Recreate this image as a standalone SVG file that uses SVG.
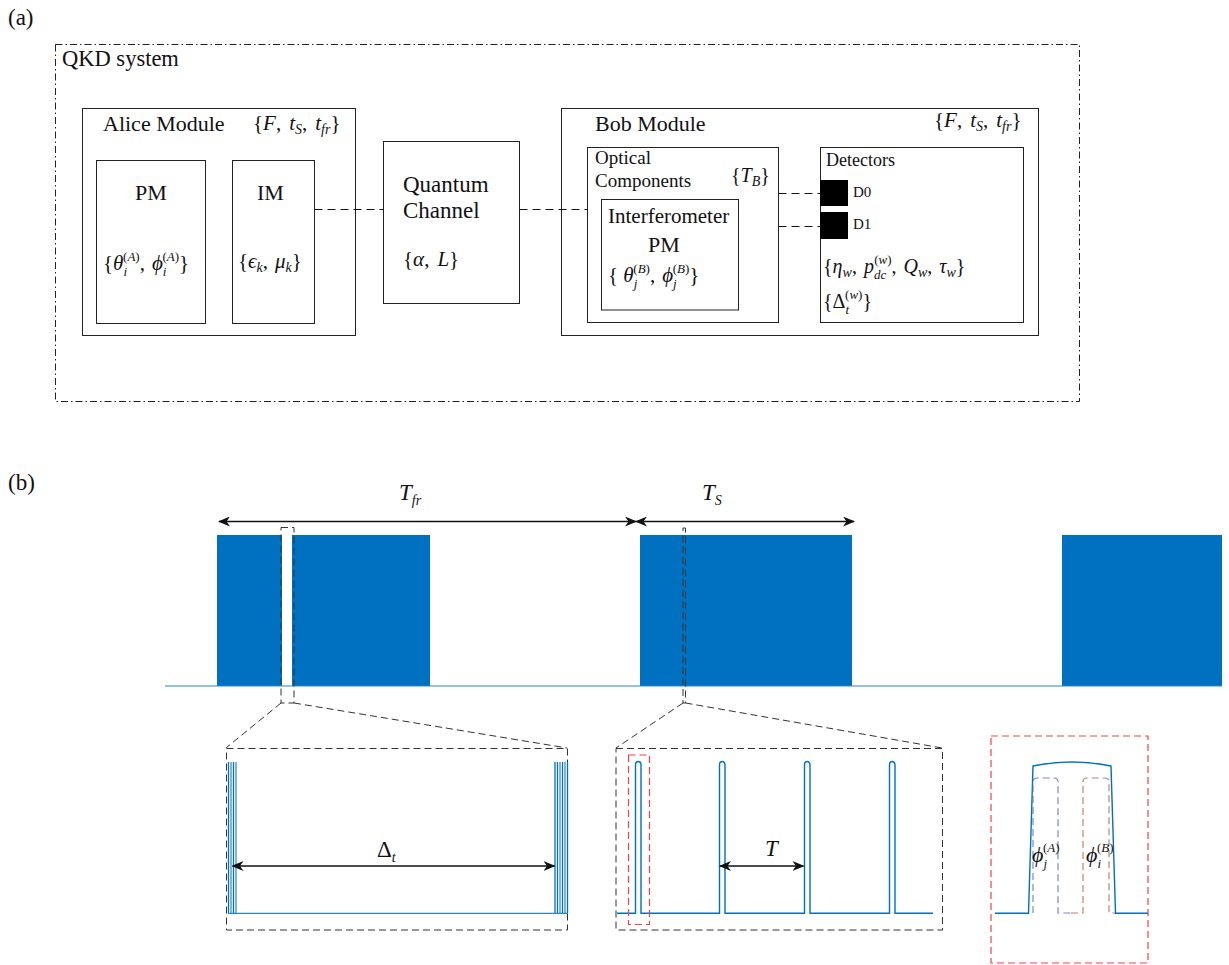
<svg xmlns="http://www.w3.org/2000/svg" width="1229" height="965" viewBox="0 0 1229 965" font-size="22">
<style>
text{font-family:'Liberation Serif','Times New Roman',serif;fill:#111}
.i{font-style:italic}
.s{font-size:14px}
.t{font-size:13px}
.box{fill:none;stroke:#222;stroke-width:1}
.dash{fill:none;stroke:#111;stroke-width:1;stroke-dasharray:8 5}
.zoom{fill:none;stroke:#333;stroke-width:1;stroke-dasharray:7 4}
.red{fill:none;stroke:#f04444;stroke-width:1.2;stroke-dasharray:7 4}
.arr{stroke:#111;stroke-width:1.3;marker-start:url(#ah);marker-end:url(#ah)}
.sig{fill:none;stroke:#0070C0;stroke-width:1.4}
</style>
<defs>
<marker id="ah" viewBox="0 0 12 10" refX="11" refY="5" markerWidth="12" markerHeight="10" markerUnits="userSpaceOnUse" orient="auto-start-reverse">
<path d="M0,0 L12,5 L0,10 L3.5,5 z" fill="#111"/>
</marker>
</defs>

<text x="8" y="25" font-size="23">(a)</text>
<text x="8" y="490" font-size="23">(b)</text>

<g id="qkd-system">
<rect x="55.5" y="44.5" width="1024" height="357" fill="none" stroke="#222" stroke-width="1" stroke-dasharray="7 3 1.5 3"/>
<text x="62" y="66" font-size="22.5">QKD system</text>
</g>

<g id="alice-module">
<rect class="box" x="82.5" y="108.5" width="273" height="227"/>
<text x="103" y="131">Alice Module</text>
<text x="253" y="130" font-size="21">{<tspan class="i">F</tspan>,<tspan class="i" dx="8">t</tspan><tspan class="s i" dy="4">S</tspan><tspan dy="-4">,</tspan><tspan class="i" dx="8">t</tspan><tspan class="s i" dy="4">fr</tspan><tspan dy="-4">}</tspan></text>
</g>
<g id="alice-pm">
<rect class="box" x="96.5" y="160.5" width="109" height="163"/>
<text x="135" y="200">PM</text>
<text x="103" y="270" font-size="21">{<tspan class="i">θ</tspan><tspan class="t i" dy="6">i</tspan><tspan class="t" dx="-4" dy="-15">(<tspan class="i">A</tspan>)</tspan><tspan dy="9">,</tspan><tspan class="i" dx="7">ϕ</tspan><tspan class="t i" dy="6">i</tspan><tspan class="t" dx="-4" dy="-15">(<tspan class="i">A</tspan>)</tspan><tspan dy="9">}</tspan></text>
</g>
<g id="alice-im">
<rect class="box" x="232.5" y="160.5" width="82" height="163"/>
<text x="257" y="200">IM</text>
<text x="238" y="268" font-size="21">{<tspan class="i">ϵ</tspan><tspan class="s i" dy="4">k</tspan><tspan dy="-4">,</tspan><tspan class="i" dx="7">μ</tspan><tspan class="s i" dy="4">k</tspan><tspan dy="-4">}</tspan></text>
</g>

<g id="quantum-channel">
<rect class="box" x="383.5" y="141.5" width="136" height="162"/>
<text x="403" y="192" font-size="23">Quantum</text>
<text x="403" y="218" font-size="23">Channel</text>
<text x="403" y="266" font-size="21">{<tspan class="i">α</tspan>,<tspan class="i" dx="8">L</tspan>}</text>
</g>

<g id="bob-module">
<rect class="box" x="561.5" y="108.5" width="477" height="227"/>
<text x="595" y="131">Bob Module</text>
<text x="934" y="127" font-size="21">{<tspan class="i">F</tspan>,<tspan class="i" dx="8">t</tspan><tspan class="s i" dy="4">S</tspan><tspan dy="-4">,</tspan><tspan class="i" dx="8">t</tspan><tspan class="s i" dy="4">fr</tspan><tspan dy="-4">}</tspan></text>
</g>
<g id="optical-components">
<rect class="box" x="587.5" y="147.5" width="191" height="175"/>
<text x="595" y="164" font-size="19">Optical</text>
<text x="595" y="187" font-size="19">Components</text>
<text x="731" y="182" font-size="20">{<tspan class="i">T</tspan><tspan class="s i" dy="4">B</tspan><tspan dy="-4">}</tspan></text>
</g>
<g id="interferometer">
<rect class="box" x="601.5" y="199.5" width="137" height="110.5"/>
<text x="608" y="223" font-size="21">Interferometer</text>
<text x="648" y="252">PM</text>
<text x="608" y="282" font-size="21">{ <tspan class="i">θ</tspan><tspan class="t i" dy="6">j</tspan><tspan class="t" dx="-4" dy="-15">(<tspan class="i">B</tspan>)</tspan><tspan dy="9">,</tspan><tspan class="i" dx="7">ϕ</tspan><tspan class="t i" dy="6">j</tspan><tspan class="t" dx="-4" dy="-15">(<tspan class="i">B</tspan>)</tspan><tspan dy="9">}</tspan></text>
</g>
<g id="detectors">
<rect class="box" x="820.5" y="147.5" width="203" height="175"/>
<text x="826" y="166" font-size="18">Detectors</text>
<text x="823" y="273" font-size="20">{<tspan class="i">η</tspan><tspan class="s i" dy="4">w</tspan><tspan dy="-4">,</tspan><tspan class="i" dx="7">p</tspan><tspan class="t i" dy="6">dc</tspan><tspan class="t" dx="-12" dy="-15">(<tspan class="i">w</tspan>)</tspan><tspan dy="9">,</tspan><tspan class="i" dx="7">Q</tspan><tspan class="s i" dy="4">w</tspan><tspan dy="-4">,</tspan><tspan class="i" dx="7">τ</tspan><tspan class="s i" dy="4">w</tspan><tspan dy="-4">}</tspan></text>
<text x="823" y="308" font-size="20">{Δ<tspan class="t i" dy="6">t</tspan><tspan class="t" dx="-4" dy="-15">(<tspan class="i">w</tspan>)</tspan><tspan dy="9">}</tspan></text>
</g>
<g id="d0">
<rect x="820" y="180" width="28" height="26" fill="#000"/>
<text x="853" y="197" font-size="15">D0</text>
</g>
<g id="d1">
<rect x="820" y="212" width="28" height="27" fill="#000"/>
<text x="853" y="229" font-size="15">D1</text>
</g>

<g id="connectors">
<line class="dash" x1="314.5" y1="209.5" x2="383.5" y2="209.5"/>
<line class="dash" x1="519.5" y1="209.5" x2="587.5" y2="209.5"/>
<line class="dash" x1="778.5" y1="193.5" x2="820" y2="193.5"/>
<line class="dash" x1="778.5" y1="226.5" x2="820" y2="226.5"/>
</g>

<g id="timing">
<rect x="217" y="535" width="213" height="151" fill="#0070C0"/>
<rect x="640" y="535" width="212" height="151" fill="#0070C0"/>
<rect x="1062" y="535" width="160" height="151" fill="#0070C0"/>
<rect x="282" y="535" width="10" height="151" fill="#fff"/>
<line x1="165" y1="686" x2="1222" y2="686" stroke="#2a86cf" stroke-width="1.2"/>
<line class="arr" x1="219" y1="521.5" x2="636" y2="521.5"/>
<line class="arr" x1="636" y1="521.5" x2="854" y2="521.5"/>
<text x="399" y="500" font-size="23"><tspan class="i">T</tspan><tspan class="s i" dy="5">fr</tspan></text>
<text x="702" y="500" font-size="23"><tspan class="i">T</tspan><tspan class="s i" dy="5">S</tspan></text>
</g>

<g id="zoom-window-1">
<rect class="zoom" x="281" y="527.5" width="13" height="175.5"/>
<line class="zoom" x1="281" y1="703" x2="226" y2="748"/>
<line class="zoom" x1="294" y1="703" x2="567" y2="748"/>
<rect class="zoom" x="226.5" y="748.5" width="341" height="181.5"/>
<g stroke-width="1.3">
<line x1="228.5" y1="762" x2="228.5" y2="913" stroke="#0070C0"/>
<line x1="231" y1="762" x2="231" y2="913" stroke="#3a8fd4"/>
<line x1="233.5" y1="762" x2="233.5" y2="913" stroke="#0070C0"/>
<line x1="236" y1="762" x2="236" y2="913" stroke="#3a8fd4"/>
<line x1="555" y1="762" x2="555" y2="913" stroke="#0070C0"/>
<line x1="557.5" y1="762" x2="557.5" y2="913" stroke="#0070C0"/>
<line x1="560" y1="762" x2="560" y2="913" stroke="#3a8fd4"/>
<line x1="562.5" y1="762" x2="562.5" y2="913" stroke="#0070C0"/>
<line x1="565" y1="762" x2="565" y2="913" stroke="#3a8fd4"/>
<line x1="567.5" y1="762" x2="567.5" y2="913" stroke="#0070C0"/>
</g>
<line x1="228" y1="913.3" x2="568" y2="913.3" stroke="#2a86cf" stroke-width="1.3"/>
<line class="arr" x1="232.5" y1="866" x2="554.5" y2="866"/>
<text x="377" y="857" font-size="23">Δ<tspan class="s i" dy="5">t</tspan></text>
</g>

<g id="zoom-window-2">
<rect class="zoom" x="683" y="528" width="2.5" height="175"/>
<line class="zoom" x1="683" y1="703" x2="616" y2="748"/>
<line class="zoom" x1="685.5" y1="703" x2="942" y2="748"/>
<rect class="zoom" x="616" y="748.5" width="326.5" height="181.5"/>
<path class="sig" d="M617,913.3 L635.5,913.3 L635.5,765 A2.75,3.5 0 0 1 641,765 L641,913.3 L719.5,913.3 L719.5,765 A2.75,3.5 0 0 1 725,765 L725,913.3 L804.5,913.3 L804.5,765 A2.75,3.5 0 0 1 810,765 L810,913.3 L889.5,913.3 L889.5,765 A2.75,3.5 0 0 1 895,765 L895,913.3 L933,913.3"/>
<rect class="red" x="628.5" y="755" width="21" height="169.5"/>
<line class="arr" x1="720" y1="866" x2="803.5" y2="866"/>
<text x="765" y="856" font-size="23" class="i">T</text>
</g>

<g id="pulse-detail">
<rect class="red" x="991" y="736" width="157" height="227"/>
<path class="sig" d="M995,913.3 L1028.5,913.3 L1033,766 Q1072,758 1111,766 L1115.5,913.3 L1148,913.3"/>
<path d="M1033,913 L1033,782 Q1033,778 1037,778 L1054,778 Q1058,778 1058,782 L1058,913 L1071,913" fill="none" stroke="#6272c8" stroke-width="1.2" stroke-dasharray="7 4" opacity="0.85"/>
<path d="M1071,913 L1083,913 L1083,782 Q1083,778 1087,778 L1105,778 Q1109,778 1109,782 L1109,913 L1115,913" fill="none" stroke="#b86d52" stroke-width="1.2" stroke-dasharray="7 4" opacity="0.85"/>
<text x="1032" y="862" font-size="22"><tspan class="i">ϕ</tspan><tspan class="t i" dy="6">j</tspan><tspan class="t" dx="-4" dy="-16">(<tspan class="i">A</tspan>)</tspan></text>
<text x="1086" y="862" font-size="22"><tspan class="i">ϕ</tspan><tspan class="t i" dy="6">i</tspan><tspan class="t" dx="-4" dy="-16">(<tspan class="i">B</tspan>)</tspan></text>
</g>
</svg>
